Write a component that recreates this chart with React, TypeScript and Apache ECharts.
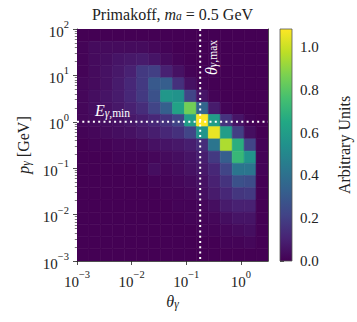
import React, { useEffect, useRef } from 'react';
import * as echarts from 'echarts';

// ---- data ----
const X_MIN = 0.001;
const X_MAX = Math.PI;
const Y_MIN = 0.001;
const Y_MAX = 100;
const N_X_BINS = 16;
const N_Y_BINS = 19;
const VMAX = 1.084;
const THETA_MAX = 0.18;
const E_MIN = 1.0;

const xTicks = [0.001, 0.01, 0.1, 1];
const yTicks = [0.001, 0.01, 0.1, 1, 10, 100];
const cbTicks = [0, 0.2, 0.4, 0.6, 0.8, 1.0];

// histogram values, rows listed from the top (highest p) to the bottom
const histRowsTopDown: number[][] = [
  [0, 0, 0, 0, 0, 0, 0, 0, 0, 0, 0, 0, 0, 0, 0, 0],
  [0.01, 0.03, 0.03, 0.03, 0.03, 0.03, 0.02, 0.01, 0, 0, 0, 0, 0, 0, 0, 0],
  [0.01, 0.03, 0.04, 0.06, 0.07, 0.08, 0.06, 0.03, 0.01, 0, 0, 0, 0, 0, 0, 0],
  [0.01, 0.03, 0.05, 0.07, 0.1, 0.18, 0.2, 0.1, 0.05, 0.01, 0, 0, 0, 0, 0, 0],
  [0.02, 0.03, 0.05, 0.08, 0.12, 0.18, 0.3, 0.32, 0.15, 0.05, 0.01, 0, 0, 0, 0, 0],
  [0.02, 0.04, 0.06, 0.08, 0.12, 0.18, 0.27, 0.57, 0.55, 0.22, 0.06, 0.01, 0, 0, 0, 0],
  [0.02, 0.04, 0.05, 0.07, 0.1, 0.14, 0.22, 0.33, 0.62, 0.85, 0.35, 0.08, 0.01, 0, 0, 0],
  [0.02, 0.03, 0.04, 0.05, 0.07, 0.09, 0.12, 0.16, 0.22, 0.6, 1.08, 0.6, 0.16, 0.06, 0.01, 0],
  [0.01, 0.02, 0.03, 0.04, 0.05, 0.07, 0.09, 0.12, 0.15, 0.22, 0.56, 1.05, 0.6, 0.2, 0.04, 0],
  [0, 0.01, 0.01, 0.02, 0.02, 0.03, 0.05, 0.06, 0.07, 0.09, 0.14, 0.42, 0.95, 0.68, 0.22, 0.01],
  [0, 0, 0, 0.01, 0.01, 0.01, 0.02, 0.03, 0.04, 0.06, 0.09, 0.18, 0.32, 0.72, 0.55, 0.01],
  [0, 0, 0, 0, 0, 0.01, 0.04, 0.02, 0.03, 0.05, 0.07, 0.12, 0.22, 0.42, 0.42, 0.01],
  [0, 0, 0, 0, 0, 0, 0.01, 0.01, 0.02, 0.03, 0.05, 0.1, 0.16, 0.27, 0.25, 0],
  [0, 0, 0, 0, 0, 0, 0, 0.01, 0.01, 0.02, 0.04, 0.08, 0.12, 0.17, 0.18, 0],
  [0, 0, 0, 0, 0, 0, 0, 0, 0.01, 0.01, 0.02, 0.04, 0.08, 0.1, 0.1, 0],
  [0, 0, 0, 0, 0, 0, 0, 0, 0, 0.01, 0.01, 0.02, 0.04, 0.06, 0.06, 0],
  [0, 0, 0, 0, 0, 0, 0, 0, 0, 0, 0.01, 0.01, 0.02, 0.03, 0.04, 0],
  [0, 0, 0, 0, 0, 0, 0, 0, 0, 0, 0, 0, 0.01, 0.01, 0.02, 0],
  [0, 0, 0, 0, 0, 0, 0, 0, 0, 0, 0, 0, 0, 0, 0, 0],
];

const VIRIDIS = ['#440154', '#482475', '#414487', '#355f8d', '#2a788e', '#21918c', '#22a884', '#44bf70', '#7ad151', '#bddf26', '#fde725'];

// ---- helpers ----
const FONT = "'Liberation Serif', 'DejaVu Serif', serif";
const INK = '#222222';

function hexToRgb(h: string) {
  return [parseInt(h.slice(1, 3), 16), parseInt(h.slice(3, 5), 16), parseInt(h.slice(5, 7), 16)];
}
function viridis(t: number) {
  const tt = Math.max(0, Math.min(1, t)) * (VIRIDIS.length - 1);
  const i = Math.min(VIRIDIS.length - 2, Math.floor(tt));
  const f = tt - i;
  const a = hexToRgb(VIRIDIS[i]);
  const b = hexToRgb(VIRIDIS[i + 1]);
  const c = a.map((v, k) => Math.round(v + (b[k] - v) * f));
  return `rgb(${c[0]},${c[1]},${c[2]})`;
}

function logEdges(min: number, max: number, n: number) {
  const l0 = Math.log10(min);
  const l1 = Math.log10(max);
  const out: number[] = [];
  for (let i = 0; i <= n; i++) out.push(Math.pow(10, l0 + ((l1 - l0) * i) / n));
  return out;
}
const xEdges = logEdges(X_MIN, X_MAX, N_X_BINS);
const yEdges = logEdges(Y_MIN, Y_MAX, N_Y_BINS);

const cells: number[][] = [];
histRowsTopDown.forEach((row, ri) => {
  const r = N_Y_BINS - 1 - ri;
  row.forEach((v, c) => {
    cells.push([xEdges[c], xEdges[c + 1], yEdges[r], yEdges[r + 1], v]);
  });
});

const yMinor: number[] = [];
for (let k = -3; k <= 1; k++) for (let m = 2; m <= 9; m++) yMinor.push(m * Math.pow(10, k));

function pow10Label(v: number) {
  const e = Math.round(Math.log10(v));
  return `{b|10}{s|${e < 0 ? '\u2212' + -e : e}}`;
}

const tickRich = {
  b: { fontFamily: FONT, fontSize: 15, color: INK, lineHeight: 20, verticalAlign: 'bottom' },
  s: { fontFamily: FONT, fontSize: 10.5, color: INK, lineHeight: 12, verticalAlign: 'top' },
};

const labRich = {
  i: { fontFamily: FONT, fontSize: 16, fontStyle: 'italic', color: INK, lineHeight: 16, verticalAlign: 'top' },
  r: { fontFamily: FONT, fontSize: 16, color: INK, lineHeight: 16, verticalAlign: 'top' },
  subi: { fontFamily: FONT, fontSize: 11.5, fontStyle: 'italic', color: INK, lineHeight: 5, verticalAlign: 'bottom' },
  subr: { fontFamily: FONT, fontSize: 11.5, color: INK, lineHeight: 5, verticalAlign: 'bottom' },
};

const whiteRich = {
  i: { fontFamily: FONT, fontSize: 16, fontStyle: 'italic', fill: '#ffffff', lineHeight: 16, verticalAlign: 'top' },
  subi: { fontFamily: FONT, fontSize: 11.5, fontStyle: 'italic', fill: '#ffffff', lineHeight: 5, verticalAlign: 'bottom' },
  subr: { fontFamily: FONT, fontSize: 11.5, fill: '#ffffff', lineHeight: 5, verticalAlign: 'bottom' },
};

const titleRich = {
  r: { fontFamily: FONT, fontSize: 16, fill: INK, lineHeight: 16, verticalAlign: 'top' },
  i: { fontFamily: FONT, fontSize: 16, fontStyle: 'italic', fill: INK, lineHeight: 16, verticalAlign: 'top' },
  subi: { fontFamily: FONT, fontSize: 11.5, fontStyle: 'italic', fill: INK, lineHeight: 5, verticalAlign: 'bottom' },
};

const GRID = { left: 77, top: 29, width: 191, height: 232 };
const CB = { left: 280, top: 29, width: 12, height: 232 };

const option: any = {
  animation: false,
  backgroundColor: '#ffffff',
  grid: [
    { left: GRID.left, top: GRID.top, width: GRID.width, height: GRID.height, containLabel: false },
    { left: CB.left, top: CB.top, width: CB.width, height: CB.height, containLabel: false },
  ],
  graphic: [
    {
      type: 'text',
      x: GRID.left + GRID.width / 2,
      y: 6,
      style: {
        text: '{r|Primakoff, }{i|m}{subi|a}{r| = 0.5 GeV}',
        rich: titleRich,
        align: 'center',
        verticalAlign: 'top',
        fill: INK,
      },
    },
  ],
  xAxis: [
    {
      type: 'log',
      gridIndex: 0,
      logBase: 10,
      min: X_MIN,
      max: X_MAX,
      position: 'bottom',
      name: '{i|θ}{subi|γ}',
      nameLocation: 'middle',
      nameGap: 30,
      nameTextStyle: { rich: labRich },
      axisLine: { show: true, lineStyle: { color: INK, width: 0.8 } },
      axisTick: { show: true, customValues: xTicks, length: 4, lineStyle: { color: INK, width: 0.8 } },
      axisLabel: { show: true, customValues: xTicks, formatter: (v: number) => pow10Label(v), rich: tickRich, margin: 8 },
      splitLine: { show: false },
      minorTick: { show: false },
    },
    {
      type: 'log',
      gridIndex: 0,
      logBase: 10,
      min: X_MIN,
      max: X_MAX,
      position: 'top',
      axisLine: { show: true, lineStyle: { color: INK, width: 0.8 } },
      axisTick: { show: false },
      axisLabel: { show: false },
      splitLine: { show: false },
    },
    {
      type: 'value',
      gridIndex: 1,
      min: 0,
      max: 1,
      show: false,
    },
  ],
  yAxis: [
    {
      type: 'log',
      gridIndex: 0,
      logBase: 10,
      min: Y_MIN,
      max: Y_MAX,
      position: 'left',
      name: '{i|p}{subi|γ}{r| [GeV]}',
      nameLocation: 'middle',
      nameGap: 44,
      nameRotate: 90,
      nameTextStyle: { rich: labRich },
      axisLine: { show: true, lineStyle: { color: INK, width: 0.8 } },
      axisTick: { show: true, customValues: yTicks, length: 4, lineStyle: { color: INK, width: 0.8 } },
      axisLabel: { show: true, customValues: yTicks, formatter: (v: number) => pow10Label(v), rich: tickRich, margin: 8 },
      splitLine: { show: false },
    },
    {
      type: 'log',
      gridIndex: 0,
      logBase: 10,
      min: Y_MIN,
      max: Y_MAX,
      position: 'left',
      axisLine: { show: false },
      axisTick: { show: true, customValues: yMinor, length: 2.2, lineStyle: { color: INK, width: 0.6 } },
      axisLabel: { show: false },
      splitLine: { show: false },
    },
    {
      type: 'log',
      gridIndex: 0,
      logBase: 10,
      min: Y_MIN,
      max: Y_MAX,
      position: 'right',
      axisLine: { show: true, lineStyle: { color: INK, width: 0.8 } },
      axisTick: { show: false },
      axisLabel: { show: false },
      splitLine: { show: false },
    },
    {
      type: 'value',
      gridIndex: 1,
      min: 0,
      max: VMAX,
      position: 'right',
      name: 'Arbitrary Units',
      nameLocation: 'middle',
      nameGap: 44,
      nameRotate: 90,
      nameTextStyle: { fontFamily: FONT, fontSize: 16, color: INK },
      axisLine: { show: false },
      axisTick: { show: true, customValues: cbTicks, length: 4, lineStyle: { color: INK, width: 0.8 } },
      axisLabel: {
        show: true,
        customValues: cbTicks,
        formatter: (v: number) => v.toFixed(1),
        fontFamily: FONT,
        fontSize: 15,
        color: INK,
        margin: 8,
      },
      splitLine: { show: false },
    },
  ],
  series: [
    {
      type: 'custom',
      name: 'histogram',
      xAxisIndex: 0,
      yAxisIndex: 0,
      silent: true,
      clip: true,
      encode: { x: [0, 1], y: [2, 3] },
      data: cells,
      renderItem: (params: any, api: any) => {
        const p0 = api.coord([api.value(0), api.value(2)]);
        const p1 = api.coord([api.value(1), api.value(3)]);
        const col = viridis(api.value(4) / VMAX);
        return {
          type: 'rect',
          shape: { x: p0[0], y: p1[1], width: p1[0] - p0[0], height: p0[1] - p1[1] },
          style: { fill: col, stroke: col, lineWidth: 0.6 },
        };
      },
    },
    {
      type: 'custom',
      name: 'cuts',
      xAxisIndex: 0,
      yAxisIndex: 0,
      silent: true,
      clip: false,
      z: 5,
      data: [[THETA_MAX, E_MIN]],
      renderItem: (params: any, api: any) => {
        const c = api.coord([api.value(0), api.value(1)]);
        const top = api.coord([api.value(0), Y_MAX])[1];
        const bottom = api.coord([api.value(0), Y_MIN])[1];
        const left = api.coord([X_MIN, api.value(1)])[0];
        const right = api.coord([X_MAX, api.value(1)])[0];
        const ls = { stroke: '#ffffff', lineWidth: 2, lineDash: [2, 3.3] };
        return {
          type: 'group',
          children: [
            { type: 'line', shape: { x1: c[0], y1: top, x2: c[0], y2: bottom }, style: ls },
            { type: 'line', shape: { x1: left, y1: c[1], x2: right, y2: c[1] }, style: ls },
            {
              type: 'text',
              x: left + 18,
              y: c[1] - 3,
              style: {
                text: '{i|E}{subi|γ}{subr|,min}',
                rich: whiteRich,
                fill: '#ffffff',
                align: 'left',
                verticalAlign: 'bottom',
              },
            },
            {
              type: 'text',
              x: c[0] + 11,
              y: top + 11,
              rotation: Math.PI / 2,
              style: {
                text: '{i|θ}{subi|γ}{subr|,max}',
                rich: whiteRich,
                fill: '#ffffff',
                align: 'right',
                verticalAlign: 'middle',
              },
            },
          ],
        };
      },
    },
    {
      type: 'custom',
      name: 'colorbar',
      xAxisIndex: 2,
      yAxisIndex: 3,
      silent: true,
      data: [[0, 1, 0, VMAX]],
      encode: { x: [0, 1], y: [2, 3] },
      renderItem: (params: any, api: any) => {
        const p0 = api.coord([api.value(0), api.value(2)]);
        const p1 = api.coord([api.value(1), api.value(3)]);
        return {
          type: 'rect',
          shape: { x: p0[0], y: p1[1], width: p1[0] - p0[0], height: p0[1] - p1[1] },
          style: {
            fill: new echarts.graphic.LinearGradient(
              0, 1, 0, 0,
              VIRIDIS.map((c, i) => ({ offset: i / (VIRIDIS.length - 1), color: c }))
            ),
            stroke: '#555555',
            lineWidth: 0.8,
          },
        };
      },
    },
  ],
};

export default function App() {
  const ref = useRef<HTMLDivElement>(null);
  useEffect(() => {
    document.body.style.margin = '0';
    const chart = echarts.init(ref.current as HTMLDivElement, null, { renderer: 'svg' });
    chart.setOption(option);
    return () => chart.dispose();
  }, []);
  return <div ref={ref} style={{ width: 357, height: 322 }} />;
}
